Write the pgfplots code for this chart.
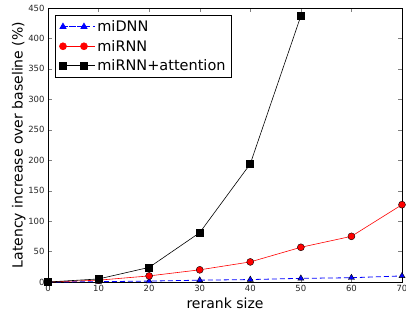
\documentclass[border=0pt]{standalone}
\usepackage{fontspec}
\setmainfont{DejaVu Sans}
\usepackage{pgfplots}
\pgfplotsset{compat=1.18}
\begin{document}
\begin{tikzpicture}
\begin{axis}[
  at={(0,0)}, anchor=south west,
  scale only axis, width=354bp, height=274bp,
  xmin=0, xmax=70, ymin=0, ymax=450,
  xtick={0,10,...,70}, ytick={0,50,...,450},
  tick align=inside, tick pos=both,
  major tick length=4bp,
  /pgf/number format/assume math mode=true,
  tick label style={font=\fontsize{8.5bp}{10bp}\selectfont, color=black!85},
  label style={font=\fontsize{14bp}{16bp}\selectfont},
  xlabel={rerank size}, ylabel={Latency increase over baseline (\%)},
  xlabel style={yshift=1bp}, ylabel style={yshift=-4bp},
  legend style={at={(0.02,0.974)}, anchor=north west, draw=black, line width=0.8pt,
    font=\fontsize{14.5bp}{17bp}\selectfont, inner xsep=4bp, inner ysep=3bp,
    row sep=3bp, cells={anchor=west}},
  legend image code/.code={\path (-2bp,0bp) -- (32bp,0bp);\draw[#1, mark options={solid}] plot coordinates {(0bp,0bp) (21bp,0bp)};},
  clip=false,
]
\addplot[blue, dashed, line width=0.8pt, dash pattern=on 5bp off 3bp, mark=triangle*, mark size=3.5bp, mark options={solid, fill=blue, draw=black, line width=0.4pt}]
  coordinates {(0,0) (10,0.5) (20,1.5) (30,3) (40,4) (50,6) (60,7) (70,10)};
\addlegendentry{miDNN}
\addplot[red, line width=0.6pt, mark=*, mark size=3.5bp, mark options={fill=red, draw=black, line width=0.4pt}]
  coordinates {(0,0) (10,3) (20,10) (30,20) (40,33) (50,57) (60,75) (70,127)};
\addlegendentry{miRNN}
\addplot[black, line width=0.6pt, mark=square*, mark size=3.5bp, mark options={fill=black}]
  coordinates {(0,0) (10,5) (20,24) (30,81) (40,194) (50,437)};
\addlegendentry{miRNN+attention}
\end{axis}
\pgfresetboundingbox
\useasboundingbox (-48bp,-34bp) rectangle (358bp,282bp);
\end{tikzpicture}
\end{document}
